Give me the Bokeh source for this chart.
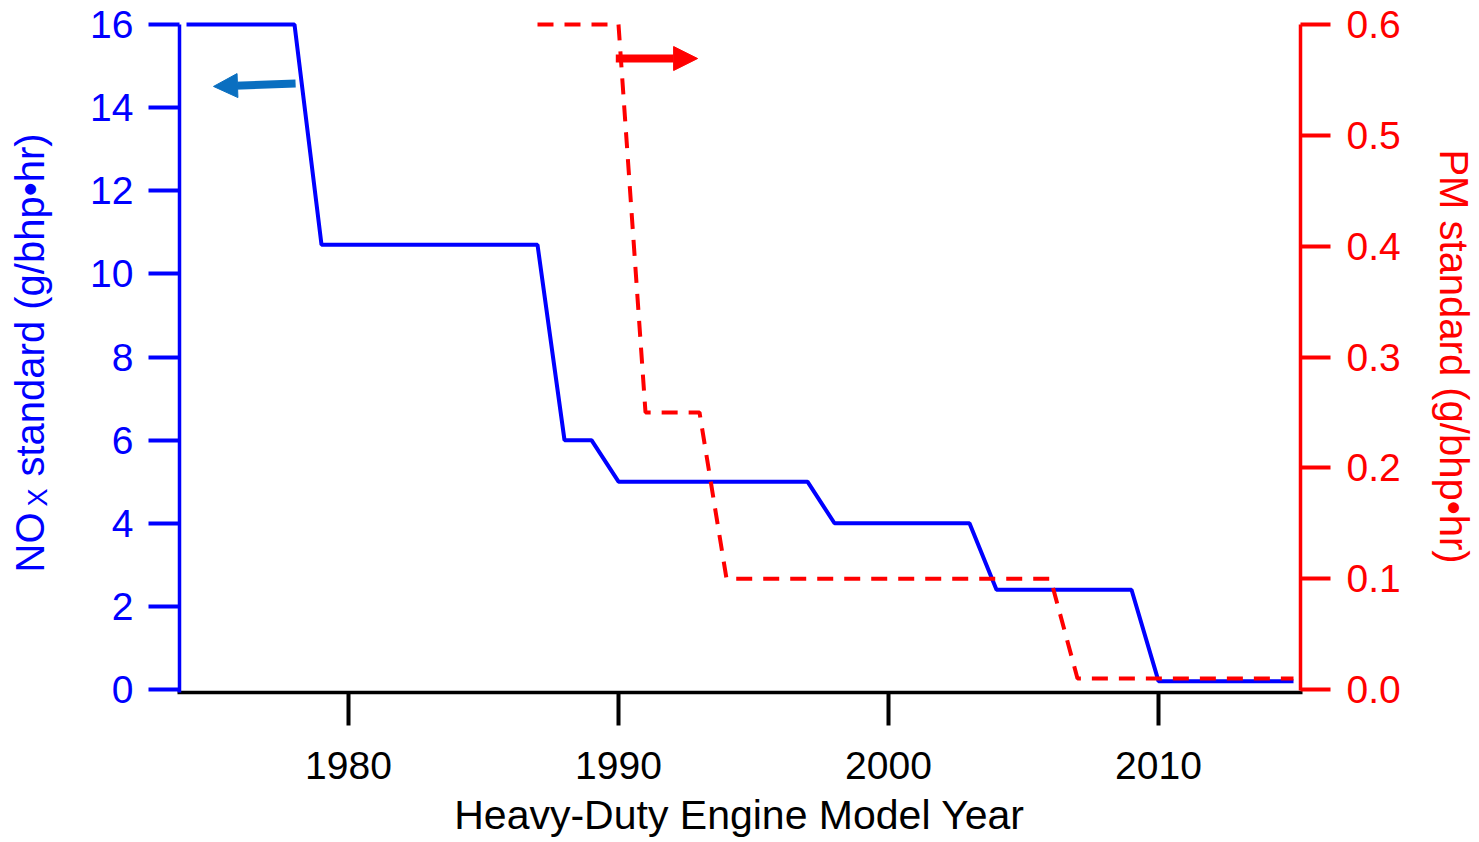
import numpy as np
from bokeh.plotting import figure
from bokeh.models import (Range1d, LinearAxis, FixedTicker, PrintfTickFormatter,
                          Label, Arrow, NormalHead)
from bokeh.embed import file_html
from bokeh.resources import INLINE

# ---- data ----
nox_years = [1974, 1978, 1979, 1987, 1988, 1989, 1990, 1997, 1998, 2003, 2004, 2009, 2010, 2015]
nox_values = [16, 16, 10.7, 10.7, 6, 6, 5, 5, 4, 4, 2.4, 2.4, 0.2, 0.2]
pm_years = [1987, 1990, 1991, 1993, 1994, 2006, 2007, 2015]
pm_values = [0.6, 0.6, 0.25, 0.25, 0.1, 0.1, 0.01, 0.01]
x_ticks = [1980, 1990, 2000, 2010]
nox_ticks = [0, 2, 4, 6, 8, 10, 12, 14, 16]
pm_ticks = [0.0, 0.1, 0.2, 0.3, 0.4, 0.5, 0.6]

x_title = "Heavy-Duty Engine Model Year"
nox_title_main = "NO"
nox_title_sub = "X"
nox_title_rest = "standard (g/bhp\u2022hr)"
pm_title = "PM standard (g/bhp\u2022hr)"

FONT = "Liberation Sans"
BLUE = "#0000ff"
RED = "#ff0000"
ARROW_BLUE = "#0a6fc0"

W, H = 1479, 842
PX_PER_YEAR = 27.0
PX_PER_NOX = 41.5625
PM_PER_NOX = 0.6 / 16


def year_at(px):
    return 1980 + (px - 348) / PX_PER_YEAR


def nox_at(py):
    return (689 - py) / PX_PER_NOX


x_range = Range1d(year_at(0), year_at(W))
y_range = Range1d(nox_at(H), nox_at(0))

p = figure(width=W, height=H, output_backend="svg", toolbar_location=None,
           x_range=x_range, y_range=y_range, min_border=0)
p.extra_y_ranges = {"pm": Range1d(nox_at(H) * PM_PER_NOX, nox_at(0) * PM_PER_NOX)}
p.grid.visible = False
p.outline_line_color = None
p.background_fill_color = "white"
p.border_fill_color = "white"


def style_axis(ax, color, tick_len, standoff):
    ax.axis_line_color = color
    ax.axis_line_width = 3.5
    ax.major_tick_line_color = color
    ax.major_tick_line_width = 4
    ax.major_tick_out = tick_len
    ax.major_tick_in = 0
    ax.minor_tick_line_color = None
    ax.major_label_text_color = color
    ax.major_label_text_font = FONT
    ax.major_label_text_font_size = "39px"
    ax.major_label_standoff = standoff


y_axis_floor = nox_at(692)

xa = p.xaxis[0]
style_axis(xa, "black", 33, 26)
xa.ticker = FixedTicker(ticks=x_ticks)
xa.fixed_location = y_axis_floor
xa.bounds = (year_at(177), year_at(1301.5))

ya = p.yaxis[0]
style_axis(ya, BLUE, 31, 15)
ya.ticker = FixedTicker(ticks=nox_ticks)
ya.fixed_location = year_at(179)
ya.bounds = (y_axis_floor, 16)

ra = LinearAxis(y_range_name="pm")
style_axis(ra, RED, 30, 16)
ra.ticker = FixedTicker(ticks=pm_ticks)
ra.formatter = PrintfTickFormatter(format="%.1f")
ra.fixed_location = year_at(1300)
ra.bounds = (nox_at(690) * PM_PER_NOX, 0.6)
p.add_layout(ra, "right")

# ---- lines ----
p.line(nox_years, nox_values, line_color=BLUE, line_width=4)
p.line(pm_years, pm_values, line_color=RED, line_width=4, line_dash="16 11",
       y_range_name="pm")

# ---- arrows ----
p.add_layout(Arrow(x_start=1978.04, y_start=14.58, x_end=1975.0, y_end=14.51,
                   line_color=ARROW_BLUE, line_width=8,
                   end=NormalHead(size=24, fill_color=ARROW_BLUE, line_color=ARROW_BLUE)))
p.add_layout(Arrow(x_start=1989.9, y_start=0.5693, x_end=1992.93, y_end=0.5693,
                   y_range_name="pm", line_color=RED, line_width=8,
                   end=NormalHead(size=24, fill_color=RED, line_color=RED)))

# ---- axis titles ----
def title_label(px, py, text, color, size, angle=0.0, align="left"):
    return Label(x=year_at(px), y=nox_at(py), text=text, text_align=align,
                 angle=angle, text_color=color, text_font=FONT,
                 text_font_size=size, text_baseline="alphabetic")


p.add_layout(title_label(739, 814, x_title, "black", "41px", align="center"))
p.add_layout(title_label(1453, 356, pm_title, RED, "40px", angle=-np.pi / 2,
                         align="center"))
p.add_layout(title_label(29, 572, nox_title_main, BLUE, "40px", angle=np.pi / 2))
p.add_layout(title_label(37, 506, nox_title_sub, BLUE, "27px", angle=np.pi / 2))
p.add_layout(title_label(29, 476, nox_title_rest, BLUE, "40px", angle=np.pi / 2))

open("out.html", "w").write(file_html(p, INLINE))
